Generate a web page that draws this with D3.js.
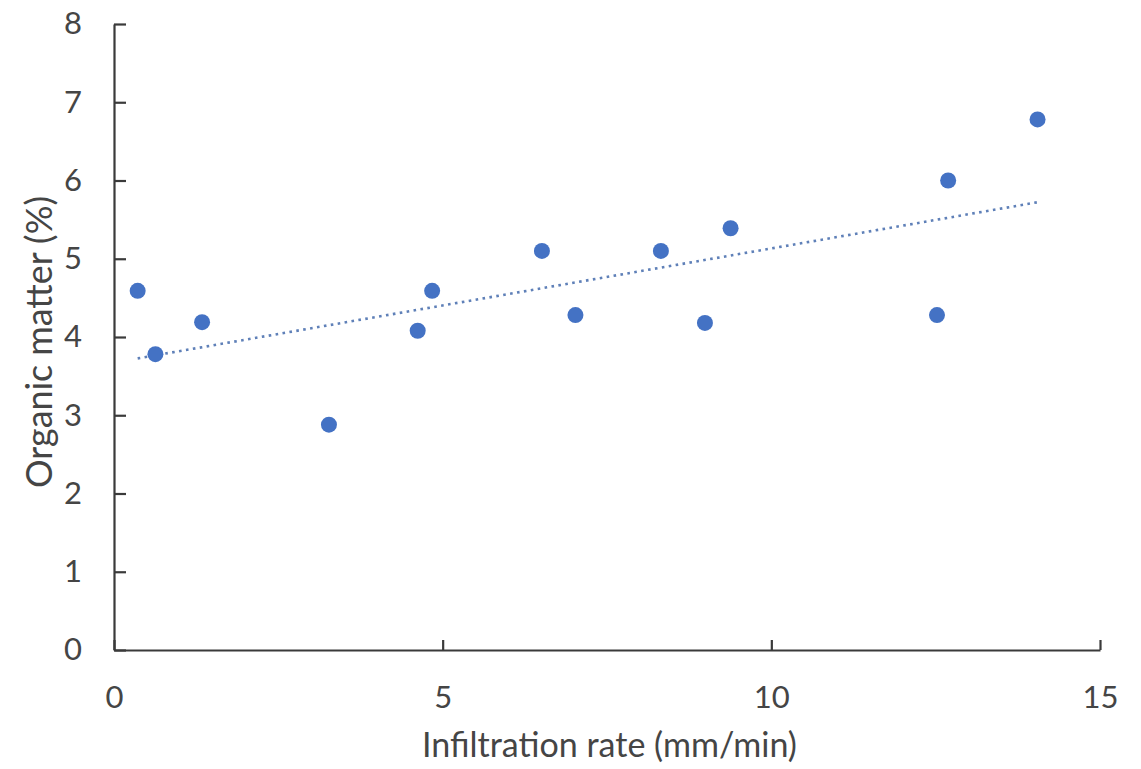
<!DOCTYPE html>
<html>
<head>
<meta charset="utf-8">
<script src="https://cdn.jsdelivr.net/npm/d3@7"></script>
<style>
  html, body { margin: 0; padding: 0; background: #ffffff; }
  svg { display: block; }
  text { font-family: "Gill Sans", "Gill Sans MT", Lato, "DejaVu Sans", sans-serif; }
</style>
</head>
<body>
<svg id="chart" width="1141" height="769"></svg>
<script>
// ---- data ----
const infiltrationRate = [0.36, 0.63, 1.34, 3.27, 4.62, 4.84, 6.51, 7.02, 8.32, 8.99, 9.38, 12.52, 12.69, 14.05];
const organicMatter    = [4.59, 3.78, 4.19, 2.88, 4.08, 4.59, 5.10, 4.28, 5.10, 4.18, 5.39, 4.28, 6.00, 6.78];
const xTicks = [0, 5, 10, 15];
const yTicks = [0, 1, 2, 3, 4, 5, 6, 7, 8];
const xTitle = "Infiltration rate (mm/min)";
const yTitle = "Organic matter (%)";

const points = infiltrationRate.map((x, i) => ({ x: x, y: organicMatter[i] }));

// ---- layout ----
const svg = d3.select("#chart");
const plotLeft = 114, plotRight = 1100, plotTop = 24, plotBottom = 650;
const textColor = "#454545";
const axisColor = "#3a3a3a";
const pointColor = "#4472c4";

const x = d3.scaleLinear().domain([0, 15]).range([plotLeft, plotRight]);
const y = d3.scaleLinear().domain([0, 8]).range([plotBottom, plotTop]);

// ---- linear trendline (least squares from the data) ----
const mx = d3.mean(points, d => d.x), my = d3.mean(points, d => d.y);
const sxy = d3.sum(points, d => (d.x - mx) * (d.y - my));
const sxx = d3.sum(points, d => (d.x - mx) * (d.x - mx));
const slope = sxy / sxx, intercept = my - slope * mx;
const xExt = d3.extent(points, d => d.x);
const trend = xExt.map(v => ({ x: v, y: intercept + slope * v }));

svg.append("path")
  .datum(trend)
  .attr("d", d3.line().x(d => x(d.x)).y(d => y(d.y)))
  .attr("fill", "none")
  .attr("stroke", "#5f80b8")
  .attr("stroke-width", 2.6)
  .attr("stroke-dasharray", "2.6,4.4");

// ---- axes ----
const xAxis = d3.axisBottom(x).tickValues(xTicks).tickSize(-10).tickSizeOuter(0).tickPadding(36).tickFormat(d3.format("d"));
const yAxis = d3.axisLeft(y).tickValues(yTicks).tickSize(-12).tickSizeOuter(0).tickPadding(32).tickFormat(d3.format("d"));

const gx = svg.append("g").attr("transform", `translate(0,${plotBottom})`).call(xAxis);
const gy = svg.append("g").attr("transform", `translate(${plotLeft},0)`).call(yAxis);

[gx, gy].forEach(g => {
  g.attr("font-family", null).attr("font-size", null);
  g.select(".domain").attr("stroke", axisColor).attr("stroke-width", 2.2);
  g.selectAll(".tick line").attr("stroke", axisColor).attr("stroke-width", 2.2);
  g.selectAll(".tick text")
    .attr("fill", textColor)
    .style("font-size", "31px")
    .style("font-weight", 400);
});

// ---- points ----
svg.append("g").selectAll("circle")
  .data(points)
  .join("circle")
  .attr("cx", d => x(d.x))
  .attr("cy", d => y(d.y))
  .attr("r", 8)
  .attr("fill", pointColor);

// ---- titles ----
function fitText(sel, target, base) {
  sel.style("font-size", base + "px");
  const w = sel.node().getComputedTextLength();
  if (w > 0) sel.style("font-size", (base * target / w).toFixed(2) + "px");
}

const xt = svg.append("text")
  .attr("x", 609.5)
  .attr("y", 757)
  .attr("text-anchor", "middle")
  .attr("fill", textColor)
  .style("font-weight", 400)
  .text(xTitle);
fitText(xt, 375, 32);

const yt = svg.append("text")
  .attr("transform", "translate(52,342) rotate(-90)")
  .attr("text-anchor", "middle")
  .attr("fill", textColor)
  .style("font-weight", 400)
  .text(yTitle);
fitText(yt, 292, 32);
</script>
</body>
</html>
